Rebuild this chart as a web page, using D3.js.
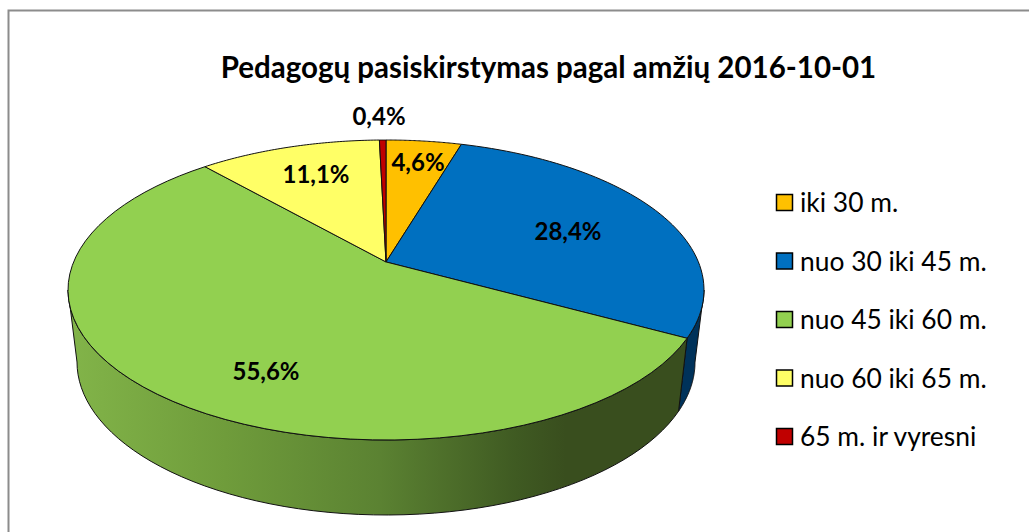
<!DOCTYPE html>
<html><head><meta charset="utf-8">
<script src="https://cdn.jsdelivr.net/npm/d3@7"></script>
<style>html,body{margin:0;padding:0;background:#fff}svg{display:block}text{font-family:Lato,"Open Sans",sans-serif;fill:#000}</style>
</head><body><svg id="c" width="1029" height="532"></svg>
<script>
const titleText = "Pedagogų pasiskirstymas pagal amžių 2016-10-01";
const categories = ["iki 30 m.", "nuo 30 iki 45 m.", "nuo 45 iki 60 m.", "nuo 60 iki 65 m.", "65 m. ir vyresni"];
const values = [4.6, 28.4, 55.6, 11.1, 0.4];
const valueLabels = ["4,6%", "28,4%", "55,6%", "11,1%", "0,4%"];
const colors = ["#FFC000", "#0070C0", "#92D050", "#FFFF66", "#C00000"];
const labelPos = [[418,162],[568,231],[266,371],[316,174],[379,116]];

const svg = d3.select("#c");
svg.append("rect").attr("x",8.5).attr("y",10.5).attr("width",1030).attr("height",540)
  .attr("fill","#fff").attr("stroke","#8c8c8c").attr("stroke-width",2);

const defs = svg.append("defs");
const grad = defs.append("linearGradient").attr("id","gs").attr("gradientUnits","userSpaceOnUse")
  .attr("x1",70).attr("x2",690).attr("y1",0).attr("y2",0);
[[0,"#82B449"],[0.25,"#6F9C3B"],[0.5,"#5B8232"],[0.72,"#3F5A22"],[0.8,"#394E1E"],[1,"#394E1E"]]
  .forEach(s=>grad.append("stop").attr("offset",s[0]).attr("stop-color",s[1]));

const tilt = -0.187;
const topX = d3.scaleLinear().domain([-1,1]).range([68,704]);
const topY = d3.scaleLinear().domain([-1,1]).range([140,440]);
const botX = d3.scaleLinear().domain([-1,1]).range([77,695]);
const botY = d3.scaleLinear().domain([-1,1]).range([209,515]);
function proj(a){
  const U=Math.sin(a), V=-Math.cos(a), d=1+tilt*V;
  return [U*Math.sqrt(1-tilt*tilt)/d, (V+tilt)/d];
}
const onTop = a=>{const p=proj(a);return [topX(p[0]),topY(p[1])]};
const onBot = a=>{const p=proj(a);return [botX(p[0]),botY(p[1])]};
const line = d3.line();
const arcs = d3.pie().sort(null).value(d=>d)(values);
const samples=(a,b)=>d3.range(0,61).map(i=>a+(b-a)*i/60);

const rightLimit = Math.acos(tilt), leftLimit = 2*Math.PI-rightLimit;
const blueEnd = arcs[1].endAngle;
const edge = "#111";
function wall(a,b,fill){
  const pts = samples(a,b).map(onTop).concat(samples(a,b).reverse().map(onBot));
  svg.append("path").attr("d",line(pts)+"Z").attr("fill",fill)
    .attr("stroke",edge).attr("stroke-width",1).attr("stroke-linejoin","round");
}
wall(rightLimit,blueEnd,"#00325A");
wall(blueEnd,leftLimit,"url(#gs)");

const hub = [topX(0),topY(tilt)];
svg.append("g").selectAll("path").data(arcs).join("path")
  .attr("d",d=>line([hub].concat(samples(d.startAngle,d.endAngle).map(onTop)))+"Z")
  .attr("fill",(d,i)=>colors[i]).attr("stroke",edge).attr("stroke-width",1).attr("stroke-linejoin","round");

svg.append("g").selectAll("text").data(valueLabels).join("text")
  .attr("x",(d,i)=>labelPos[i][0]).attr("y",(d,i)=>labelPos[i][1]+8.5)
  .attr("text-anchor","middle").attr("font-size",24).attr("font-weight",700).text(d=>d);

svg.append("text").attr("x",548.5).attr("y",78).attr("text-anchor","middle")
  .attr("font-size",29.5).attr("font-weight",700).text(titleText);

const legendY = d3.scalePoint().domain(categories).range([202.5,436.5]);
const leg = svg.append("g").selectAll("g").data(categories).join("g")
  .attr("transform",d=>`translate(0,${legendY(d)})`);
leg.append("rect").attr("x",776.5).attr("y",-8).attr("width",16).attr("height",16)
  .attr("fill",(d,i)=>colors[i]).attr("stroke","#000").attr("stroke-width",1.5);
leg.append("text").attr("x",800).attr("y",9.5).attr("font-size",26.4).text(d=>d);
</script></body></html>
